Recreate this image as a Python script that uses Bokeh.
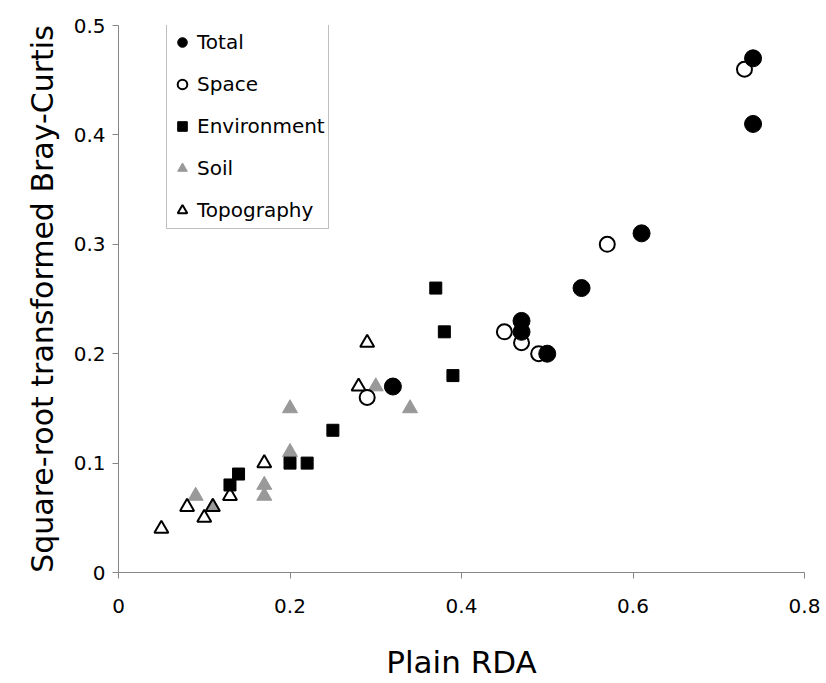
from bokeh.plotting import figure
from bokeh.models import Legend, LegendItem, FixedTicker
from bokeh.embed import file_html
from bokeh.resources import INLINE

# ---- data ----
total_x = [0.32, 0.47, 0.47, 0.50, 0.54, 0.61, 0.74, 0.74]
total_y = [0.17, 0.23, 0.22, 0.20, 0.26, 0.31, 0.47, 0.41]

space_x = [0.29, 0.45, 0.47, 0.49, 0.57, 0.73]
space_y = [0.16, 0.22, 0.21, 0.20, 0.30, 0.46]

env_x = [0.13, 0.14, 0.20, 0.22, 0.25, 0.37, 0.38, 0.39]
env_y = [0.08, 0.09, 0.10, 0.10, 0.13, 0.26, 0.22, 0.18]

soil_x = [0.09, 0.11, 0.17, 0.17, 0.20, 0.20, 0.30, 0.34]
soil_y = [0.07, 0.06, 0.08, 0.07, 0.15, 0.11, 0.17, 0.15]

topo_x = [0.05, 0.08, 0.10, 0.11, 0.13, 0.17, 0.28, 0.29]
topo_y = [0.04, 0.06, 0.05, 0.06, 0.07, 0.10, 0.17, 0.21]

x_ticks = [0, 0.2, 0.4, 0.6, 0.8]
x_tick_labels = ["0", "0.2", "0.4", "0.6", "0.8"]
y_ticks = [0, 0.1, 0.2, 0.3, 0.4, 0.5]
y_tick_labels = ["0", "0.1", "0.2", "0.3", "0.4", "0.5"]

series_names = ["Total", "Space", "Environment", "Soil", "Topography"]

FONT = "DejaVu Sans"
AXIS_GRAY = "#868686"

p = figure(width=826, height=683, x_range=(0, 0.8), y_range=(0, 0.5),
           output_backend="svg", toolbar_location=None,
           min_border_left=118, min_border_right=22, min_border_top=25,
           min_border_bottom=111)
p.outline_line_color = None
p.grid.visible = False

# glyphs (draw order chosen to match overlaps)
r_soil = p.scatter(soil_x, soil_y, marker="triangle", size=15,
                   fill_color="#999999", line_color="#999999", line_width=1)
r_topo = p.scatter(topo_x, topo_y, marker="triangle", size=14,
                   fill_color=None, line_color="black", line_width=2)
r_space = p.scatter(space_x, space_y, marker="circle", size=15,
                    fill_color="white", line_color="black", line_width=2)
r_total = p.scatter(total_x, total_y, marker="circle", size=17,
                    fill_color="black", line_color="black")
r_env = p.scatter(env_x, env_y, marker="square", size=12,
                  fill_color="black", line_color="black")

# axes
for ax, ticks, labels in ((p.xaxis[0], x_ticks, x_tick_labels),
                          (p.yaxis[0], y_ticks, y_tick_labels)):
    ax.ticker = FixedTicker(ticks=ticks)
    ax.major_label_overrides = {t: l for t, l in zip(ticks, labels)}
    ax.axis_line_color = AXIS_GRAY
    ax.major_tick_line_color = AXIS_GRAY
    ax.minor_tick_line_color = None
    ax.major_tick_out = 6
    ax.major_tick_in = 0
    ax.major_label_text_font = FONT
    ax.major_label_text_font_size = "20px"
    ax.major_label_text_color = "black"
    ax.axis_label_text_font = FONT
    ax.axis_label_text_font_style = "normal"
    ax.axis_label_text_color = "black"

p.xaxis[0].axis_label = "Plain RDA"
p.xaxis[0].axis_label_text_font_size = "31px"
p.xaxis[0].major_label_standoff = 20
p.xaxis[0].axis_label_standoff = 28

p.yaxis[0].axis_label = "Square-root transformed Bray-Curtis"
p.yaxis[0].axis_label_text_font_size = "30px"
p.yaxis[0].major_label_standoff = 7
p.yaxis[0].axis_label_standoff = 11

legend = Legend(items=[
    LegendItem(label=series_names[0], renderers=[r_total]),
    LegendItem(label=series_names[1], renderers=[r_space]),
    LegendItem(label=series_names[2], renderers=[r_env]),
    LegendItem(label=series_names[3], renderers=[r_soil]),
    LegendItem(label=series_names[4], renderers=[r_topo]),
], location=(48, 343))
legend.glyph_width = 24
legend.glyph_height = 30
legend.padding = 3
legend.spacing = 12
legend.margin = 0
legend.label_standoff = 3
legend.label_text_font = FONT
legend.label_text_font_size = "20px"
legend.label_text_color = "black"
legend.border_line_color = "#808080"
legend.border_line_width = 1
legend.background_fill_color = "white"
legend.background_fill_alpha = 1
p.add_layout(legend, "center")

open("out.html", "w").write(file_html(p, INLINE))
